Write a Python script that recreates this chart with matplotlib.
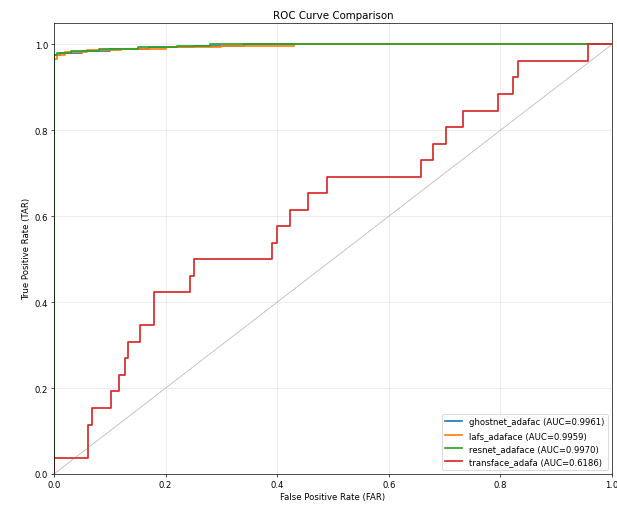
import matplotlib
matplotlib.use("Agg")
import matplotlib.pyplot as plt
import numpy as np

# ROC step points (fpr where tpr changes, tpr level from there on)
ghost_fpr = [0.0, 0.0, 0.01, 0.05, 0.10, 0.17, 0.25, 0.34, 1.0]
ghost_tpr = [0.0, 0.976, 0.981, 0.985, 0.989, 0.993, 0.996, 1.0, 1.0]

lafs_fpr = [0.0, 0.0, 0.005, 0.02, 0.06, 0.12, 0.20, 0.30, 0.43, 1.0]
lafs_tpr = [0.0, 0.965, 0.975, 0.982, 0.987, 0.990, 0.994, 0.997, 1.0, 1.0]

resnet_fpr = [0.0, 0.0, 0.005, 0.03, 0.08, 0.15, 0.22, 0.28, 1.0]
resnet_tpr = [0.0, 0.975, 0.980, 0.985, 0.990, 0.993, 0.997, 1.0, 1.0]

trans_fpr = [0.0, 0.0, 0.061, 0.068, 0.102, 0.116, 0.127, 0.133, 0.154, 0.18,
             0.244, 0.251, 0.391, 0.40, 0.423, 0.455, 0.49, 0.657, 0.68,
             0.702, 0.733, 0.795, 0.823, 0.832, 0.957, 1.0]
trans_tpr = [0.0, 0.038, 0.115, 0.154, 0.192, 0.231, 0.269, 0.308, 0.346, 0.423,
             0.462, 0.5, 0.538, 0.577, 0.615, 0.654, 0.692, 0.731, 0.769,
             0.808, 0.846, 0.885, 0.923, 0.962, 1.0, 1.0]

labels = ["ghostnet_adafac (AUC=0.9961)", "lafs_adaface (AUC=0.9959)",
          "resnet_adaface (AUC=0.9970)", "transface_adafa (AUC=0.6186)"]

curves = [(ghost_fpr, ghost_tpr), (lafs_fpr, lafs_tpr),
          (resnet_fpr, resnet_tpr), (trans_fpr, trans_tpr)]

fig = plt.figure(figsize=(10, 8.233), dpi=61.7)
ax = fig.add_axes([0.0875, 0.065, 0.9045, 0.888])

for (fpr, tpr), lab in zip(curves, labels):
    ax.plot(fpr, tpr, drawstyle="steps-post", lw=2, label=lab)

# chance line
ax.plot([0, 1], [0, 1], color="gray", lw=1, alpha=0.5)

ax.set_xlim(0, 1)
ax.set_ylim(0, 1.05)
ax.set_xlabel("False Positive Rate (FAR)")
ax.set_ylabel("True Positive Rate (TAR)")
ax.set_title("ROC Curve Comparison")
ax.grid(True, alpha=0.3)
ax.legend(loc="lower right")

fig.savefig("out.png", dpi=61.7)
